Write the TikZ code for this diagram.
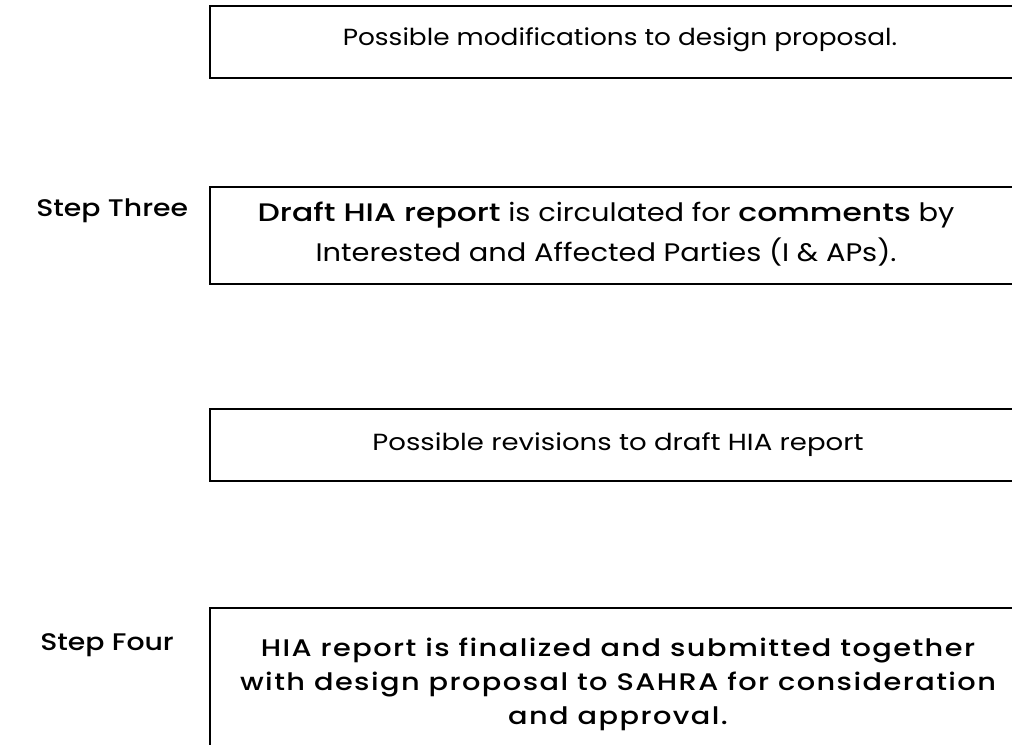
\documentclass[tikz,border=0pt]{standalone}
\usepackage{fontspec}
\setmainfont{Poppins}[FakeStretch=1.13]
\newfontfamily\revfont{Poppins}[FakeStretch=1.18]
\newfontfamily\widefont{Poppins}[FakeStretch=1.14]
\newfontfamily\widebold{Poppins Medium}[FakeStretch=1.24]
\newfontfamily\stepfont{Poppins Medium}[FakeStretch=1.18]
\newfontfamily\finalfont{Poppins Medium}[FakeStretch=1.2,LetterSpace=6]
\begin{document}
\begin{tikzpicture}[x=0.75pt,y=-0.75pt,
  stagebox/.style={draw=black,line width=1.5pt},
  boxtext/.style={inner sep=0pt,align=center,font=\fontsize{17.5}{30}\selectfont},
  steplabel/.style={inner sep=0pt,anchor=west,font=\stepfont\fontsize{18}{20}\selectfont}]
\useasboundingbox (0,0) rectangle (1012,744);
\clip (0,0) rectangle (1012,744);
% stage boxes, open on the right and at the foot of the page
\draw[stagebox] (209.5,6) rectangle (1060,78);
\draw[stagebox] (209.5,187) rectangle (1060,284);
\draw[stagebox] (209.5,409) rectangle (1060,481);
\draw[stagebox] (209.5,608) rectangle (1060,760);
% box texts
\node[boxtext] (mods) at (620,40) {Possible modifications to design proposal.};
\node[boxtext,font=\widefont\fontsize{19}{30}\selectfont] (draft) at (606,234) {{\widebold Draft HIA report} is circulated for {\widebold comments} by\\Interested and Affected Parties (I \& APs).};
\node[boxtext,font=\revfont\fontsize{17.5}{30}\selectfont] (revs) at (618,445) {Possible revisions to draft HIA report};
\node[boxtext,font=\finalfont\fontsize{18}{25.5}\selectfont] (final) at (618,684) {HIA report is finalized and submitted together\\with design proposal to SAHRA for consideration\\and approval.};
% step labels
\node[steplabel] (three) at (36,211) {Step Three};
\node[steplabel] (four) at (40,645) {Step Four};
\end{tikzpicture}
\end{document}
